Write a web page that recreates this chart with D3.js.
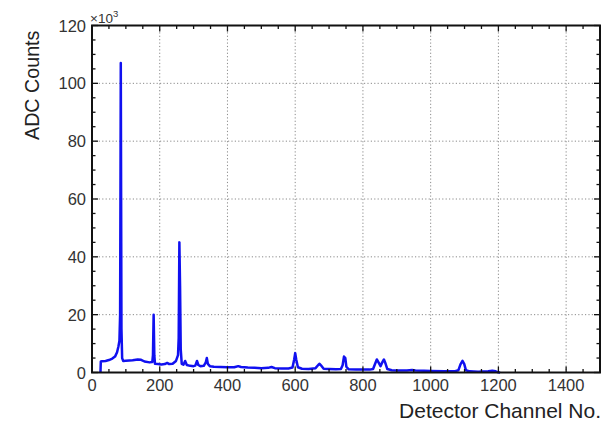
<!DOCTYPE html>
<html>
<head>
<meta charset="utf-8">
<script src="https://cdn.jsdelivr.net/npm/d3@7"></script>
<style>
  html, body { margin: 0; padding: 0; background: #fff; }
  svg { display: block; font-family: "Liberation Sans", Arial, Helvetica, sans-serif; }
</style>
</head>
<body>
<svg id="chart" width="610" height="421"></svg>
<script>
// Spectrum samples: detector channel and ADC counts
const channels = [
  25, 26, 30, 40, 50, 60, 68, 74, 78, 81, 83, 84, 85, 86, 87, 89, 92,
  100, 120, 135, 145, 155, 170, 178, 180, 182, 184, 186, 195, 205, 215, 222, 228,
  238, 248, 254, 256, 258, 260, 262, 265, 270, 275, 280, 290, 300, 305, 310, 314,
  320, 330, 336, 339, 342, 348, 360, 380, 400, 420, 432, 440, 460, 480, 500, 520,
  530, 540, 560, 580, 592, 597, 600, 603, 608, 620, 640, 660, 668, 672, 676, 684,
  700, 720, 735, 740, 744, 748, 751, 758, 780, 800, 820, 830, 836, 841, 846, 852,
  857, 862, 867, 872, 885, 900, 930, 945, 955, 980, 1000, 1040, 1070, 1082, 1088,
  1094, 1099, 1104, 1115, 1140, 1170, 1182, 1192, 1198, 1205
];
const counts = [
  0, 3800, 3900, 4000, 4300, 4800, 5500, 7000, 9000, 11000, 20000, 60000, 107000, 60000, 15000, 5000, 4000,
  4100, 4200, 4500, 4400, 3800, 3500, 3600, 6000, 20000, 6000, 3000, 2900, 2800, 2900, 3300, 2900,
  3000, 4000, 6000, 12000, 45000, 30000, 8000, 3000, 2700, 4000, 2600, 2300, 2200, 2400, 4000, 2600,
  2200, 2300, 3500, 5000, 3000, 2200, 2000, 1900, 1800, 1800, 2200, 1900, 1700, 1600, 1500, 1600,
  1900, 1500, 1400, 1400, 1700, 4500, 6700, 4500, 1800, 1300, 1200, 1500, 2600, 3000, 2500, 1300,
  1200, 1100, 1200, 2500, 5500, 5000, 2000, 1100, 1000, 1000, 1000, 1200, 3000, 4500, 3500, 2200,
  3500, 4500, 3000, 1200, 800, 700, 700, 900, 700, 600, 500, 400, 400, 800, 2800,
  4000, 3000, 800, 400, 300, 400, 600, 400, 100, 0
];

// Axis settings
const xMajorTicks = [0, 200, 400, 600, 800, 1000, 1200, 1400];
const yMajorTicks = [0, 20000, 40000, 60000, 80000, 100000, 120000];
const xTitle = "Detector Channel No.";
const yTitle = "ADC Counts";

const svg = d3.select("#chart");
const pLeft = 92, pRight = 600, pTop = 25.5, pBottom = 372.5;

const x = d3.scaleLinear().domain([0, 1500]).range([pLeft, pRight]);
const y = d3.scaleLinear().domain([0, 120000]).range([pBottom, pTop]);

// Dotted grid at major ticks
const grid = svg.append("g").attr("stroke", "#8a8a8a").attr("stroke-width", 1)
  .attr("stroke-dasharray", "1.2,2.2");
xMajorTicks.filter(v => v > 0).forEach(v => {
  grid.append("line").attr("x1", x(v)).attr("x2", x(v)).attr("y1", pTop).attr("y2", pBottom);
});
yMajorTicks.filter(v => v > 0 && v < 120000).forEach(v => {
  grid.append("line").attr("x1", pLeft).attr("x2", pRight).attr("y1", y(v)).attr("y2", y(v));
});

// Spectrum line
const pts = channels.map((c, i) => [c, counts[i]]);
svg.append("path")
  .datum(pts)
  .attr("fill", "none")
  .attr("stroke", "#1010f0")
  .attr("stroke-width", 2.5)
  .attr("stroke-linejoin", "round")
  .attr("d", d3.line().x(d => x(d[0])).y(d => y(d[1])));

// Inward ticks on all four sides
const xMinor = d3.range(0, 1501, 50).filter(v => v % 200 !== 0);
const yMinor = d3.range(0, 120001, 5000).filter(v => v % 20000 !== 0);
const tk = svg.append("g").attr("stroke", "#111").attr("stroke-width", 1.3);
const majLen = 6, minLen = 3.5;
xMajorTicks.forEach(v => {
  tk.append("line").attr("x1", x(v)).attr("x2", x(v)).attr("y1", pBottom).attr("y2", pBottom - majLen);
  tk.append("line").attr("x1", x(v)).attr("x2", x(v)).attr("y1", pTop).attr("y2", pTop + majLen);
});
xMinor.forEach(v => {
  tk.append("line").attr("x1", x(v)).attr("x2", x(v)).attr("y1", pBottom).attr("y2", pBottom - minLen);
  tk.append("line").attr("x1", x(v)).attr("x2", x(v)).attr("y1", pTop).attr("y2", pTop + minLen);
});
yMajorTicks.forEach(v => {
  tk.append("line").attr("x1", pLeft).attr("x2", pLeft + majLen).attr("y1", y(v)).attr("y2", y(v));
  tk.append("line").attr("x1", pRight).attr("x2", pRight - majLen).attr("y1", y(v)).attr("y2", y(v));
});
yMinor.forEach(v => {
  tk.append("line").attr("x1", pLeft).attr("x2", pLeft + minLen).attr("y1", y(v)).attr("y2", y(v));
  tk.append("line").attr("x1", pRight).attr("x2", pRight - minLen).attr("y1", y(v)).attr("y2", y(v));
});

// Frame
svg.append("rect")
  .attr("x", pLeft).attr("y", pTop)
  .attr("width", pRight - pLeft).attr("height", pBottom - pTop)
  .attr("fill", "none").attr("stroke", "#111").attr("stroke-width", 2);

// Tick labels
const labelColor = "#333";
svg.append("g").selectAll("text").data(xMajorTicks).join("text")
  .attr("x", d => x(d)).attr("y", 390.5)
  .attr("text-anchor", "middle")
  .attr("font-size", 16.5).attr("fill", labelColor)
  .text(d => d);

svg.append("g").selectAll("text").data(yMajorTicks).join("text")
  .attr("x", 86).attr("y", d => y(d) + 6)
  .attr("text-anchor", "end")
  .attr("font-size", 16.5).attr("fill", labelColor)
  .text(d => d / 1000);

// Exponent marker
const ex = svg.append("text").attr("x", 90).attr("y", 22.5)
  .attr("font-size", 13.5).attr("fill", labelColor);
ex.append("tspan").text("\u00d710");
ex.append("tspan").attr("font-size", 9.5).attr("dy", -6).text("3");

// Axis titles
svg.append("text")
  .attr("x", 601).attr("y", 418)
  .attr("text-anchor", "end")
  .attr("font-size", 21).attr("fill", "#222")
  .text(xTitle);

svg.append("text")
  .attr("transform", "translate(39,140) rotate(-90)")
  .attr("text-anchor", "start")
  .attr("font-size", 19.7).attr("fill", "#222")
  .text(yTitle);
</script>
</body>
</html>
